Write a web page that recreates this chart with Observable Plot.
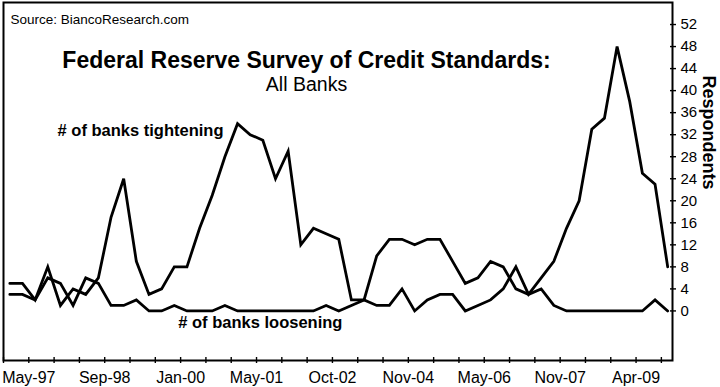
<!DOCTYPE html>
<html><head><meta charset="utf-8">
<script src="https://cdn.jsdelivr.net/npm/d3@7"></script>
<script src="https://cdn.jsdelivr.net/npm/@observablehq/plot@0.6"></script>
<style>body{margin:0;background:#fff} svg{display:block}</style>
</head><body><div id="chart"></div>
<script>
// Number of banks tightening / loosening credit standards, one value per survey (May-97 .. Oct-09)
const tightening = [5,5,2,8,1,4,3,6,17,24, 9,3,4,8,8,15,21,28,34,32, 31,24,29,12,15,14,13,2,2,1, 1,4,0,2,3,3,0,1,2,4, 8,3,6,9,15,20,33,35,48,38, 25,23,8];
const loosening  = [3,3,2,6,5,1,6,5,1,1, 2,0,0,1,0,0,0,1,0,0, 0,0,0,0,0,1,0,1,2,10, 13,13,12,13,13,9,5,6,9,8, 4,3,4,1,0,0,0,0,0,0, 0,2,0];
const xLabels = ["May-97","Sep-98","Jan-00","May-01","Oct-02","Nov-04","May-06","Nov-07","Apr-09"];
const yTicks = d3.range(0, 53, 4);

const font = "'Liberation Sans', Arial, Helvetica, sans-serif";
const xTickPos = d3.range(0, 27).map(k => -0.5 + 2 * k);
const xLabelPos = xLabels.map((_, j) => 1.5 + 6 * j);
const xMin = -0.5, xMax = 52.38, yMin = -9, yMax = 56;

const chart = Plot.plot({
  width: 720, height: 387,
  marginLeft: 3, marginRight: 48, marginTop: 2, marginBottom: 27,
  style: {fontFamily: font, background: "white", color: "black", overflow: "visible"},
  x: {domain: [xMin, xMax], label: null},
  y: {domain: [yMin, yMax], label: null},
  marks: [
    Plot.frame({stroke: "black", strokeWidth: 2, fill: "none"}),
    Plot.axisX({ticks: xTickPos, tickSize: 6, dy: -3, tickFormat: () => "", strokeWidth: 1.4, label: null}),
    Plot.axisX({ticks: xLabelPos, tickSize: 0, tickPadding: 11, fontSize: 16,
      tickFormat: d => xLabels[Math.round((d - 1.5) / 6)], label: null}),
    Plot.axisY({anchor: "right", ticks: yTicks, tickSize: 6, dx: -3, tickFormat: () => "", strokeWidth: 1.4, label: null}),
    Plot.axisY({anchor: "right", ticks: yTicks, tickSize: 0, tickPadding: 8, fontSize: 15, label: null}),
    Plot.lineY(loosening, {x: (d, i) => i, y: d => d, stroke: "black", strokeWidth: 2.8, strokeLinejoin: "miter", strokeMiterlimit: 4}),
    Plot.lineY(tightening, {x: (d, i) => i, y: d => d, stroke: "black", strokeWidth: 2.8, strokeLinejoin: "miter", strokeMiterlimit: 4}),
    Plot.text(["# of banks tightening"], {x: 10.33, y: 32.7, text: d => d, fontSize: 16.5, fontWeight: "bold"}),
    Plot.text(["# of banks loosening"], {x: 19.8, y: -2.1, text: d => d, fontSize: 16.5, fontWeight: "bold"}),
    Plot.text(["Source: BiancoResearch.com"], {frameAnchor: "top-left", dx: 7, dy: 12, textAnchor: "start", text: d => d, fontSize: 13.5}),
    Plot.text(["Federal Reserve Survey of Credit Standards:"], {frameAnchor: "top-left", dx: 303, dy: 49, textAnchor: "middle", text: d => d, fontSize: 23, fontWeight: "bold"}),
    Plot.text(["All Banks"], {frameAnchor: "top-left", dx: 303, dy: 75, textAnchor: "middle", text: d => d, fontSize: 19.5}),
    Plot.text(["Respondents"], {frameAnchor: "top-right", dx: 43, dy: 130, rotate: 90, textAnchor: "middle", text: d => d, fontSize: 18, fontWeight: "bold"})
  ]
});
document.getElementById("chart").append(chart);
</script>
</body></html>
